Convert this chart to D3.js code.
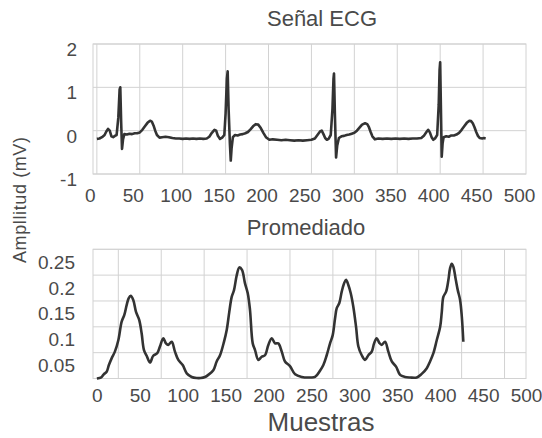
<!DOCTYPE html>
<html>
	<head>
		<meta charset="utf-8">
		<script src="https://d3js.org/d3.v7.min.js"></script>
		<style>
			body {
				margin: 0;
				background-color: white;
			}

			svg {
				display: block;
			}

			text {
				font-family: "Liberation Sans", Arial, sans-serif;
				fill: #4a4a4a;
			}
		</style>
	</head>
	<body>
		<svg width="542" height="438"></svg>
		<script>
			// señal ECG, [muestra, mV]
			var ecgSignal = [
				[0, -0.19], [3, -0.18], [6, -0.15], [9, -0.1], [11, -0.02], [13, 0.04], [15, 0.0], [17, -0.13], [19, -0.15],
				[21, -0.12], [23, -0.1], [25, 0.3], [26.5, 0.95], [27.3, 1.0], [28.3, 0.2], [29.3, -0.42], [30.5, -0.2],
				[32, -0.08], [35, -0.09], [38, -0.07], [41, -0.08], [44, -0.06], [47, -0.06], [50, -0.04], [53, 0.02],
				[56, 0.1], [59, 0.18], [62, 0.23], [64, 0.21], [66, 0.12], [68, 0.0], [70, -0.1], [73, -0.16], [76, -0.15],
				[80, -0.14], [84, -0.15], [88, -0.17], [92, -0.18], [96, -0.18], [100, -0.19], [104, -0.18], [108, -0.19],
				[112, -0.18], [116, -0.19], [120, -0.18], [124, -0.19], [128, -0.18], [131, -0.14], [134, -0.05], [137, 0.02],
				[139, 0.0], [141, -0.12], [143.5, -0.19], [146, -0.16], [148.5, -0.1], [150, 0.4], [151.5, 1.2], [152.4, 1.37],
				[153.5, 0.5], [155, -0.3], [156, -0.69], [157, -0.4], [158.5, -0.15], [161, -0.1], [164, -0.11], [167, -0.09],
				[170, -0.08], [173, -0.06], [176, -0.03], [179, 0.03], [182, 0.1], [185, 0.15], [188, 0.14], [191, 0.06],
				[194, -0.05], [197, -0.15], [201, -0.21], [205, -0.2], [210, -0.21], [215, -0.22], [220, -0.21], [225, -0.22],
				[230, -0.23], [235, -0.22], [240, -0.23], [245, -0.22], [250, -0.21], [254, -0.18], [257, -0.1], [260, -0.02],
				[262, 0.0], [264, -0.08], [266, -0.17], [268, -0.21], [270, -0.19], [272.5, -0.1], [274.5, 0.5], [275.7, 1.2],
				[276.3, 1.32], [277.3, 0.4], [278.7, -0.62], [280, -0.35], [282, -0.17], [285, -0.13], [288, -0.12], [291, -0.1],
				[294, -0.09], [297, -0.07], [300, -0.05], [303, 0.0], [306, 0.07], [309, 0.14], [312.5, 0.17], [315, 0.15],
				[317, 0.08], [319, -0.03], [321, -0.13], [324, -0.2], [328, -0.18], [333, -0.19], [338, -0.18], [343, -0.19],
				[348, -0.18], [353, -0.19], [358, -0.18], [363, -0.19], [368, -0.18], [373, -0.18], [378, -0.17], [381, -0.12],
				[384, -0.03], [386, 0.02], [388, -0.04], [390, -0.15], [392, -0.21], [394, -0.18], [396.5, -0.1], [398.3, 0.6],
				[399.3, 1.4], [400, 1.58], [400.8, 0.6], [401.8, -0.6], [402.8, -0.3], [404, -0.15], [407, -0.13], [410, -0.14],
				[413, -0.11], [416, -0.11], [419, -0.09], [422, -0.05], [425, 0.02], [428, 0.1], [431, 0.18], [434, 0.23],
				[436, 0.22], [438, 0.17], [440, 0.08], [442, -0.03], [444, -0.12], [446, -0.17], [449, -0.18], [451, -0.17],
				[453, -0.18]
			]

			// señal promediada, [muestra, valor]
			var avgSignal = [
				[0, 0.0], [3, 0.001], [5.6, 0.003], [8, 0.008], [11.4, 0.013], [14, 0.026], [17.2, 0.039], [21, 0.052],
				[25, 0.074], [28.9, 0.11], [32, 0.123], [34.7, 0.142], [37, 0.155], [39.4, 0.16], [42.4, 0.152], [45.6, 0.129],
				[49.4, 0.113], [52.2, 0.087], [54.9, 0.055], [58, 0.044], [61.9, 0.031], [65.7, 0.044], [70.4, 0.049],
				[73.5, 0.062], [77.4, 0.078], [80.5, 0.068], [83.2, 0.065], [87.2, 0.071], [91, 0.052], [94.9, 0.036],
				[100, 0.026], [104.7, 0.01], [110.5, 0.003], [116.3, 0.001], [121, 0.001], [126, 0.003], [129.8, 0.007],
				[135.7, 0.016], [139.6, 0.033], [143.5, 0.045], [148.1, 0.071], [151.3, 0.094], [154.3, 0.129], [157.1, 0.158],
				[159.8, 0.171], [163, 0.2], [166, 0.215], [169.1, 0.21], [172.6, 0.184], [175.8, 0.165], [178.4, 0.133],
				[181.6, 0.068], [184.3, 0.055], [188.1, 0.036], [192, 0.042], [195.9, 0.045], [199.8, 0.065], [203.7, 0.078],
				[207.6, 0.068], [211.4, 0.068], [215.4, 0.052], [219.2, 0.033], [225, 0.024], [231, 0.008], [238.7, 0.003],
				[248.4, 0.002], [254.2, 0.003], [260, 0.015], [263.9, 0.026], [267.8, 0.045], [271.7, 0.068], [274.8, 0.084],
				[277.5, 0.116], [279.5, 0.136], [282.5, 0.146], [285.3, 0.168], [288, 0.184], [290.3, 0.191], [293, 0.181],
				[295.8, 0.165], [298.8, 0.139], [302, 0.1], [304.7, 0.062], [308.6, 0.045], [312.5, 0.036], [316.3, 0.045],
				[320.3, 0.052], [323, 0.068], [326, 0.078], [329.1, 0.069], [331.9, 0.065], [335.8, 0.071], [339.6, 0.052],
				[343.6, 0.033], [348.6, 0.023], [353.3, 0.007], [359, 0.003], [364.9, 0.002], [372.7, 0.002], [378.5, 0.009],
				[384.4, 0.02], [388.2, 0.033], [392.1, 0.049], [396, 0.074], [400, 0.1], [401.9, 0.129], [403.7, 0.158],
				[406.9, 0.168], [409.6, 0.191], [411.5, 0.213], [413.5, 0.222], [415.4, 0.216], [418.2, 0.191], [420.5, 0.171],
				[423.2, 0.152], [425.2, 0.12], [427, 0.071]
			]

			var sampleTicks = [0, 50, 100, 150, 200, 250, 300, 350, 400, 450, 500]
			var ecgGridX = [0, 50, 100, 150, 200, 250, 300, 350, 400, 450]
			var ecgTicks = [-1, 0, 1, 2]
			var avgGridX = [25, 75, 125, 175, 225, 275, 325, 375, 425, 475]
			var avgTicks = [0.05, 0.1, 0.15, 0.2, 0.25]

			var gridColor = "#d2d2d2"
			var lineColor = "#333333"

			var svg = d3.select("svg")

			function drawPanel(p) {
				var g = svg.append("g")

				g.selectAll("line.vgrid")
					.data(p.gridX)
					.enter()
					.append("line")
					.attr("class", "vgrid")
					.attr("x1", d => p.x(d))
					.attr("x2", d => p.x(d))
					.attr("y1", p.y.range()[1])
					.attr("y2", p.y.range()[0])
					.attr("stroke", gridColor)

				g.selectAll("line.hgrid")
					.data(p.gridY)
					.enter()
					.append("line")
					.attr("class", "hgrid")
					.attr("x1", p.x.range()[0])
					.attr("x2", p.x.range()[1])
					.attr("y1", d => p.y(d))
					.attr("y2", d => p.y(d))
					.attr("stroke", gridColor)

				g.append("rect")
					.attr("x", p.x.range()[0])
					.attr("y", p.y.range()[1])
					.attr("width", p.x.range()[1] - p.x.range()[0])
					.attr("height", p.y.range()[0] - p.y.range()[1])
					.attr("fill", "none")
					.attr("stroke", gridColor)

				var xAxis = g.append("g")
					.attr("transform", "translate(0," + p.y.range()[0] + ")")
					.call(d3.axisBottom(p.x).tickValues(sampleTicks).tickSize(0).tickFormat(d => String(d)))
				xAxis.select(".domain").remove()
				xAxis.attr("font-family", null).attr("font-size", 19)
				xAxis.selectAll("text")
					.attr("dy", null)
					.attr("y", p.xLabelY)
					.attr("dx", p.xLabelDx)
					.attr("fill", null)

				var yAxis = g.append("g")
					.attr("transform", "translate(" + p.x.range()[0] + ",0)")
					.call(d3.axisLeft(p.y).tickValues(p.yTicks).tickSize(0).tickPadding(p.yPad).tickFormat(d => String(d)))
				yAxis.select(".domain").remove()
				yAxis.attr("font-family", null).attr("font-size", 19)
				yAxis.selectAll("text")
					.attr("dy", p.yLabelDy)
					.attr("fill", null)

				var line = d3.line()
					.x(d => p.x(d[0]))
					.y(d => p.y(d[1]))
					.curve(p.curve)

				g.append("path")
					.datum(p.data)
					.attr("d", line)
					.attr("fill", "none")
					.attr("stroke", lineColor)
					.attr("stroke-width", 2.6)
					.attr("stroke-linejoin", "round")

				g.append("text")
					.attr("x", p.titleX)
					.attr("y", p.titleY)
					.attr("text-anchor", "middle")
					.attr("font-size", 22)
					.text(p.title)
			}

			drawPanel({
				data: ecgSignal,
				x: d3.scaleLinear().domain([-4.5, 500]).range([93, 526]),
				y: d3.scaleLinear().domain([-1, 2]).range([174, 44]),
				gridX: ecgGridX,
				gridY: ecgTicks,
				yTicks: ecgTicks,
				yPad: 16,
				yLabelDy: 11.5,
				xLabelY: 27.5,
				xLabelDx: -7,
				curve: d3.curveLinear,
				title: "Señal ECG",
				titleX: 322,
				titleY: 26,
			})

			drawPanel({
				data: avgSignal,
				x: d3.scaleLinear().domain([-4.5, 500]).range([93, 526]),
				y: d3.scaleLinear().domain([0, 0.25]).range([378.5, 249.3]),
				gridX: avgGridX,
				gridY: [0].concat(avgTicks),
				yTicks: avgTicks,
				yPad: 18,
				yLabelDy: 19,
				xLabelY: 23.5,
				xLabelDx: 0,
				curve: d3.curveCatmullRom.alpha(0.5),
				title: "Promediado",
				titleX: 306,
				titleY: 235,
			})

			svg.append("text")
				.attr("transform", "translate(26,200) rotate(-90)")
				.attr("text-anchor", "middle")
				.attr("font-size", 18)
				.attr("textLength", 126)
				.text("Ampllitud (mV)")

			svg.append("text")
				.attr("x", 321)
				.attr("y", 431)
				.attr("text-anchor", "middle")
				.attr("font-size", 26)
				.text("Muestras")
		</script>
	</body>
</html>
